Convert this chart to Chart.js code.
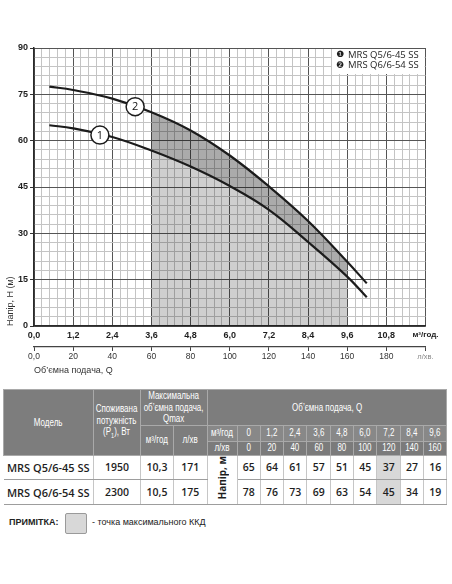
<!DOCTYPE html>
<html><head><meta charset="utf-8">
<script src="https://cdn.jsdelivr.net/npm/chart.js@4.4.1/dist/chart.umd.min.js"></script>
<style>
html,body{margin:0;padding:0;background:#fff;width:452px;height:584px;overflow:hidden;font-family:'Open Sans',sans-serif;}
#c{position:absolute;left:0;top:0;}
#tbl{position:absolute;left:3px;top:389px;width:444px;border-collapse:collapse;table-layout:fixed;}
#tbl td{padding:0;text-align:center;vertical-align:middle;white-space:nowrap;}
#tbl td.h{background:#7d7d7d;color:#fff;font-family:'Liberation Sans',Arial,sans-serif;font-size:10px;line-height:11.5px;border:1px solid #a9a9a9;overflow:visible;}
#tbl td.h > div{width:124%;margin-left:-12%;transform:scaleX(0.8);transform-origin:50% 50%;}
#tbl td.h2{background:#888;}
#tbl td.h3{background:#7b7b7b;}
#tbl td.d{font-family:'Open Sans',sans-serif;font-weight:600;font-size:10.5px;color:#1e1e1e;border-left:1px solid #c6c6c6;border-right:1px solid #c6c6c6;border-bottom:1px solid #9d9d9d;overflow:hidden;}
#tbl td.m{font-size:11px;border-left:none;}
#tbl td.best{background:#d8d8d8;}
#tbl td.vh{border-left:1px solid #c6c6c6;border-right:1px solid #c6c6c6;border-bottom:1px solid #9d9d9d;}
.vt{writing-mode:vertical-rl;transform:rotate(180deg);display:inline-block;font-weight:700;font-size:10px;color:#1e1e1e;font-family:'Open Sans',sans-serif;}
#note{position:absolute;left:9px;top:517px;font-family:'Liberation Sans',Arial,sans-serif;font-weight:700;font-size:9px;color:#222;}
#box{position:absolute;left:65px;top:513px;width:20px;height:19px;background:#d8d8d8;border:1px solid #9a9a9a;border-radius:2px;}
#noteTxt{position:absolute;left:92px;top:517px;font-family:'Liberation Sans',Arial,sans-serif;font-size:9px;color:#222;}
</style></head>
<body>
<canvas id="c" width="452" height="385" style="width:452px;height:385px"></canvas>
<table id="tbl"></table>
<div id="note">ПРИМІТКА:</div><div id="box"></div><div id="noteTxt">- точка максимального ККД</div>
<script>
// ---- chart data ----
const flowQ  = [0.47, 1.2, 2.4, 3.6, 4.8, 6.0, 7.2, 8.4, 9.6, 10.2];
const headQ5 = [65.0, 64.0, 61.2, 56.8, 51.6, 45.3, 37.6, 27.2, 16.0, 9.3];
const headQ6 = [77.5, 76.4, 73.6, 69.2, 63.3, 55.2, 45.2, 34.0, 20.8, 13.8];
const seriesNames  = ['MRS Q5/6-45 SS', 'MRS Q6/6-54 SS'];
const seriesBadges = ['\u2776', '\u2777'];
const markerQ = [2.02, 3.1];
const markerH = [61.8, 71.0];
const markerText = ['1', '2'];
const efficiencyFrom = 3.6, efficiencyTo = 9.6;
const xMin = 0, xMax = 12, xMajor = 1.2, xMinor = 0.24;
const yMin = 0, yMax = 90, yMajor = 15, yMinor = 3;
const lpmMax = 200, lpmStep = 20;
const xUnit = 'м³/год.', lpmUnit = 'л/хв.';
const yTitle = 'Напір, Н (м)';
const xTitle = 'Об’ємна подача, Q';

// ---- table data ----
const tableFlowM3  = ['0','1,2','2,4','3,6','4,8','6,0','7,2','8,4','9,6'];
const tableFlowLpm = ['0','20','40','60','80','100','120','140','160'];
const tableModels  = ['MRS Q5/6-45 SS', 'MRS Q6/6-54 SS'];
const tablePower   = ['1950', '2300'];
const tableQmaxM3  = ['10,3', '10,5'];
const tableQmaxLpm = ['171', '175'];
const tableHeads   = [[65,64,61,57,51,45,37,27,16],[78,76,73,69,63,54,45,34,19]];
const bestColumn = 6;

function buildTable(){
  const widths = [90,47,33,33.5,30].concat(tableFlowM3.map(()=>23.33));
  const hc = (txt, cls, attrs) => '<td class="h'+(cls?' '+cls:'')+'"'+(attrs||'')+'><div>'+txt+'</div></td>';
  let h = '<colgroup>' + widths.map(w=>'<col style="width:'+w+'px">').join('') + '</colgroup>';
  h += '<tr style="height:35px">' + hc('Модель','',' rowspan="3"')
     + hc('Споживана<br>потужність<br>(P<sub style="font-size:7px">1</sub>), Вт','',' rowspan="3"')
     + hc('Максимальна<br>об’ємна подача,<br>Qmax','',' colspan="2"')
     + hc('Об’ємна подача, Q','',' colspan="'+(tableFlowM3.length+1)+'"') + '</tr>';
  h += '<tr style="height:16px">' + hc('м³/год','',' rowspan="2"') + hc('л/хв','',' rowspan="2"') + hc('м³/год','h2')
     + tableFlowM3.map(v=>hc(v,'h2')).join('') + '</tr>';
  h += '<tr style="height:14px">' + hc('л/хв','h3') + tableFlowLpm.map(v=>hc(v,'h3')).join('') + '</tr>';
  tableModels.forEach((m,i)=>{
    h += '<tr style="height:23px"><td class="d m">'+m+'</td><td class="d">'+tablePower[i]+'</td><td class="d">'+tableQmaxM3[i]+'</td><td class="d">'+tableQmaxLpm[i]+'</td>';
    if (i===0) h += '<td class="vh" rowspan="'+tableModels.length+'"><span class="vt">Напір, м</span></td>';
    h += tableHeads[i].map((v,j)=>'<td class="d'+(j===bestColumn?' best':'')+'">'+v+'</td>').join('') + '</tr>';
  });
  document.getElementById('tbl').innerHTML = h;
}
buildTable();

const isMult = (v, step) => Math.abs(v/step - Math.round(v/step)) < 1e-6;
const fmt1 = v => v.toFixed(1).replace('.', ',');
const mkTicks = (min, max, step) => { const a=[]; const n=Math.round((max-min)/step); for(let i=0;i<=n;i++) a.push({value:+(min+i*step).toFixed(4)}); return a; };

const efficiencyZone = {
  id:'efficiencyZone',
  beforeDatasetsDraw(chart){
    const ctx = chart.ctx, ca = chart.chartArea, xs = chart.scales.x;
    const l = xs.getPixelForValue(efficiencyFrom), r = xs.getPixelForValue(efficiencyTo);
    const e0 = chart.getDatasetMeta(0).dataset, e1 = chart.getDatasetMeta(1).dataset;
    if (!e0 || !e1 || typeof e0.path !== 'function') return;
    e0.updateControlPoints && e0.updateControlPoints(ca, 'x');
    e1.updateControlPoints && e1.updateControlPoints(ca, 'x');
    const poly = el => { el.path(ctx); const p = el.points; ctx.lineTo(p[p.length-1].x, ca.bottom); ctx.lineTo(p[0].x, ca.bottom); ctx.closePath(); };
    ctx.save();
    ctx.beginPath(); ctx.rect(l, ca.top, r-l, ca.bottom-ca.top); ctx.clip();
    ctx.beginPath(); poly(e1); poly(e0);
    ctx.fillStyle = 'rgba(0,0,0,0.33)'; ctx.fill('evenodd');
    ctx.beginPath(); poly(e0);
    ctx.fillStyle = 'rgba(0,0,0,0.19)'; ctx.fill();
    ctx.restore();
  }
};

const overlay = {
  id:'overlay',
  afterDatasetsDraw(chart){
    const ctx = chart.ctx, ca = chart.chartArea, xs = chart.scales.x, ys = chart.scales.y;
    ctx.save();
    ctx.fillStyle = '#fff';
    ctx.fillRect(332, ca.top + 1, ca.right - 1 - 332, 25);
    ctx.textBaseline = 'middle';
    seriesNames.forEach((n,i)=>{
      const y = ca.top + 7 + i*10.5;
      ctx.fillStyle = '#1e1e1e';
      ctx.font = '9px "DejaVu Sans"';
      ctx.textAlign = 'left';
      ctx.fillText(seriesBadges[i], 336, y);
      ctx.font = '9.5px "Open Sans"';
      ctx.fillText(n, 348, y);
    });
    markerQ.forEach((q,i)=>{
      const x = xs.getPixelForValue(q), y = ys.getPixelForValue(markerH[i]);
      ctx.beginPath(); ctx.arc(x, y, 9, 0, Math.PI*2);
      ctx.fillStyle = '#fff'; ctx.fill();
      ctx.lineWidth = 1.5; ctx.strokeStyle = '#1c1c1c'; ctx.stroke();
      ctx.fillStyle = '#111'; ctx.font = '11px "Open Sans"'; ctx.textAlign = 'center';
      ctx.fillText(markerText[i], x, y + 0.5);
    });
    ctx.restore();
  }
};

const gridColor = step => c => (c.tick && isMult(c.tick.value, step)) ? '#555' : '#c4c4c4';

new Chart(document.getElementById('c'), {
  type:'line',
  data:{ datasets:[
    { label: seriesNames[0], data: flowQ.map((q,i)=>({x:q, y:headQ5[i]})), borderColor:'#1c1c1c', borderWidth:2.2, pointRadius:0, tension:0.4, fill:false },
    { label: seriesNames[1], data: flowQ.map((q,i)=>({x:q, y:headQ6[i]})), borderColor:'#1c1c1c', borderWidth:2.2, pointRadius:0, tension:0.4, fill:false }
  ]},
  options:{
    responsive:false, animation:false,
    layout:{ padding:{ left:0, top:48, right:26.5, bottom:9 } },
    plugins:{ legend:{display:false}, tooltip:{enabled:false} },
    scales:{
      x:{ type:'linear', min:xMin, max:xMax, weight:0,
        afterBuildTicks: a => { a.ticks = mkTicks(xMin, xMax, xMinor); },
        ticks:{ autoSkip:false, maxRotation:0, padding:4, color:'#1e1e1e',
          callback: v => isMult(v, xMajor) ? (Math.abs(v - xMax) < 1e-6 ? xUnit : fmt1(v)) : '',
          font: c => (c.tick && Math.abs(c.tick.value - xMax) < 1e-6) ? {size:8, weight:'bold'} : {size:9, weight:'bold'} },
        grid:{ drawTicks:false, color: gridColor(xMajor), lineWidth:1 },
        border:{ display:true, color:'#2a2a2a', width:1.5 },
        afterFit: s => { s.height = 21; }
      },
      x2:{ type:'linear', position:'bottom', min:0, max:lpmMax, weight:1,
        afterBuildTicks: a => { a.ticks = mkTicks(0, lpmMax, lpmStep); },
        ticks:{ autoSkip:false, maxRotation:0, padding:1,
          callback: v => v === 0 ? '0,0' : (v === lpmMax ? lpmUnit : String(v)),
          color: c => (c.tick && c.tick.value === lpmMax) ? '#888' : '#333',
          font: c => (c.tick && c.tick.value === lpmMax) ? {size:7.5} : {size:8.5} },
        grid:{ drawOnChartArea:false, drawTicks:true, tickLength:4, color:'#444', lineWidth:1 },
        border:{ display:true, color:'#444', width:1.2 },
        title:{ display:true, text:xTitle, align:'start', color:'#333', font:{size:9}, padding:0 },
        afterFit: s => { s.height = 29; }
      },
      y:{ type:'linear', min:yMin, max:yMax,
        afterBuildTicks: a => { a.ticks = mkTicks(yMin, yMax, yMinor); },
        ticks:{ autoSkip:false, padding:2, color:'#1e1e1e', font:{size:9, weight:'bold'},
          callback: v => isMult(v, yMajor) ? String(v) : '' },
        grid:{ color: gridColor(yMajor), lineWidth:1, drawTicks:true, tickLength:4,
          tickColor: c => (c.tick && isMult(c.tick.value, yMajor)) ? '#333' : 'rgba(0,0,0,0)' },
        border:{ display:true, color:'#2a2a2a', width:1.5 },
        title:{ display:true, text:yTitle, align:'start', color:'#333', font:{size:9}, padding:{top:5, bottom:0} },
        afterFit: s => { s.width = 34; }
      }
    }
  },
  plugins:[efficiencyZone, overlay]
});
</script>
</body></html>
